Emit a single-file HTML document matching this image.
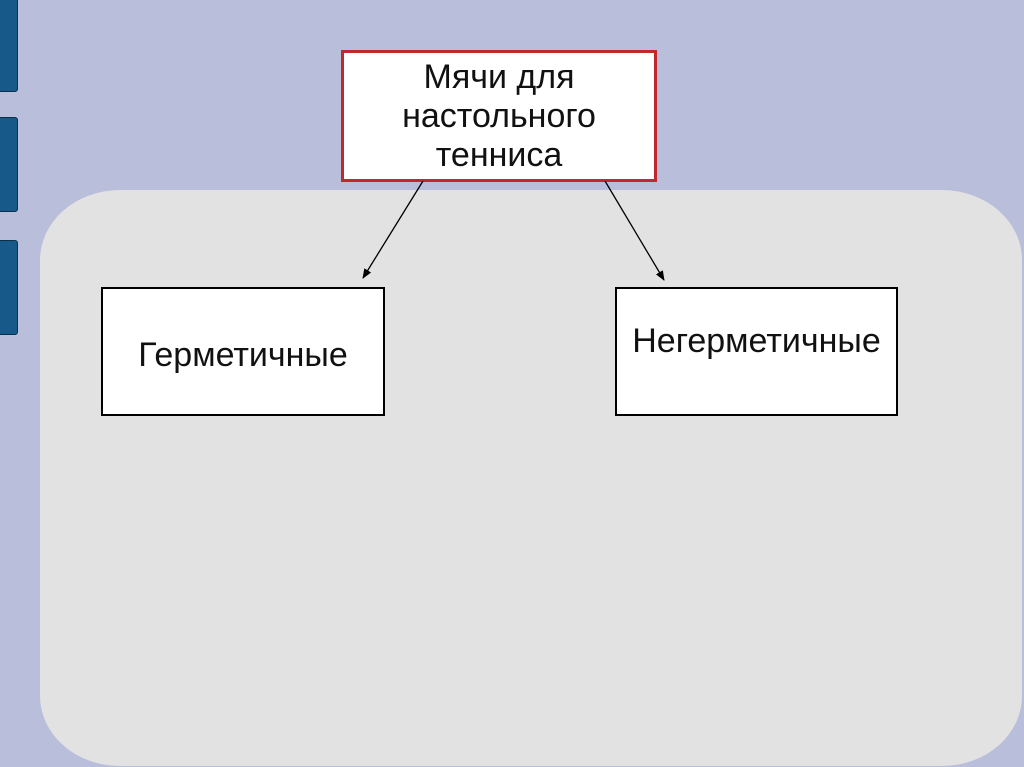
<!DOCTYPE html>
<html style="overflow:hidden;width:1024px;height:767px"><head><meta charset="utf-8"><style>
body{margin:0;width:1024px;height:767px;background:#b9bedb;position:relative;overflow:hidden;font-family:"Liberation Sans",sans-serif}
.tab{position:absolute;left:-4px;width:20px;background:#175a8a;border:1px solid #0d2f4a;border-radius:3px}
.panel{position:absolute;left:40px;top:190px;width:982px;height:576px;background:#e2e2e2;border-radius:80px/70px}
.box{position:absolute;background:#fff;border:2px solid #000;box-sizing:border-box;display:flex;align-items:center;justify-content:center;text-align:center;color:#111;font-size:34px}
</style></head><body>
<div class="tab" style="top:-5px;height:95px"></div>
<div class="tab" style="top:117px;height:93px"></div>
<div class="tab" style="top:240px;height:93px"></div>
<div class="panel"></div>
<div class="box" style="left:341px;top:50px;width:316px;height:132px;border:3px solid #c0282c;font-size:34px;line-height:39px">Мячи для<br>настольного<br>тенниса</div>
<div class="box" style="left:101px;top:287px;width:284px;height:129px;padding-top:8px">Герметичные</div>
<div class="box" style="left:615px;top:287px;width:283px;height:129px;padding-bottom:20px">Негерметичные</div>
<svg width="1024" height="767" style="position:absolute;left:0;top:0">
<defs><marker id="a" markerWidth="10" markerHeight="10" refX="9" refY="5" orient="auto" markerUnits="userSpaceOnUse"><path d="M0,1 L10,5 L0,9 z" fill="#000"/></marker></defs>
<line x1="423" y1="181" x2="363" y2="278" stroke="#000" stroke-width="1.3" marker-end="url(#a)"/>
<line x1="605" y1="181" x2="664" y2="280" stroke="#000" stroke-width="1.3" marker-end="url(#a)"/>
</svg>
</body></html>
